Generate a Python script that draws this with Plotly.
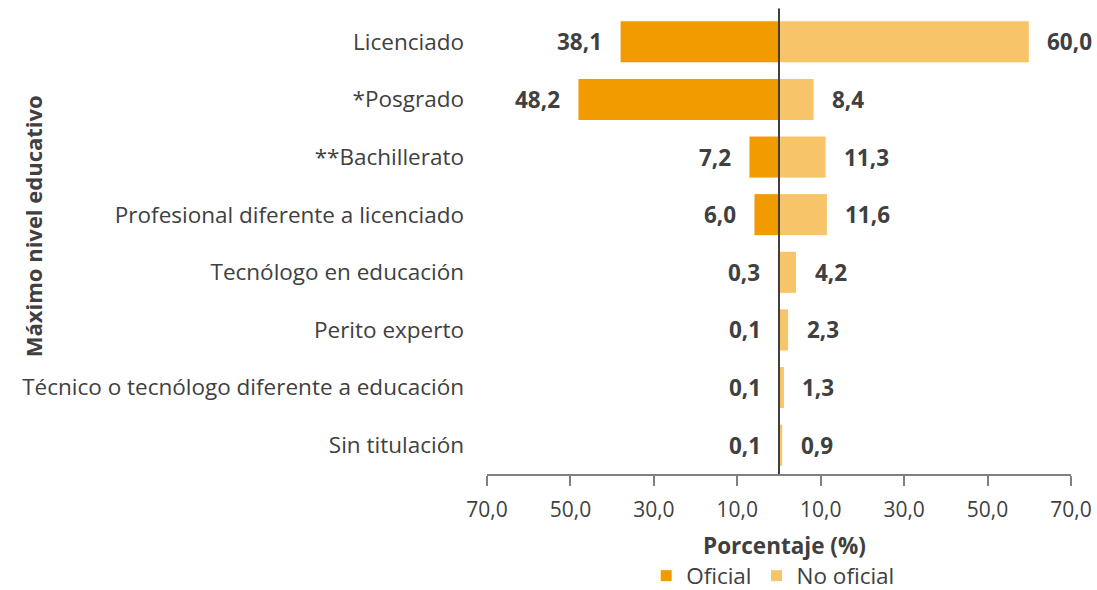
import plotly.graph_objects as go

categories = [
    "Licenciado",
    "*Posgrado",
    "**Bachillerato",
    "Profesional diferente a licenciado",
    "Tecnólogo en educación",
    "Perito experto",
    "Técnico o tecnólogo diferente a educación",
    "Sin titulación",
]
oficial = [38.1, 48.2, 7.2, 6.0, 0.3, 0.1, 0.1, 0.1]
no_oficial = [60.0, 8.4, 11.3, 11.6, 4.2, 2.3, 1.3, 0.9]
tick_vals = [-70, -50, -30, -10, 10, 30, 50, 70]
tick_text = ["70,0", "50,0", "30,0", "10,0", "10,0", "30,0", "50,0", "70,0"]

C_OF = "#F29B00"
C_NO = "#F7C46A"
TXT = "#404040"
FONT = "Open Sans"
FS = 22.5

def fmt(v):
    return f"{v:.1f}".replace(".", ",")

fig = go.Figure()
fig.add_trace(go.Bar(
    y=categories, x=[-v for v in oficial], orientation="h", name="Oficial",
    marker=dict(color=C_OF, line=dict(color="white", width=1)),
    hoverinfo="skip",
))
fig.add_trace(go.Bar(
    y=categories, x=no_oficial, orientation="h", name="No oficial",
    marker=dict(color=C_NO, line=dict(color="white", width=1)),
    hoverinfo="skip",
))

annotations = []
for c, v in zip(categories, oficial):
    annotations.append(dict(x=-v, y=c, xref="x", yref="y", text=fmt(v),
                            showarrow=False, xanchor="right", xshift=-16,
                            font=dict(family=FONT, size=FS, color=TXT, weight="bold")))
for c, v in zip(categories, no_oficial):
    annotations.append(dict(x=v, y=c, xref="x", yref="y", text=fmt(v),
                            showarrow=False, xanchor="left", xshift=16,
                            font=dict(family=FONT, size=FS, color=TXT, weight="bold")))
annotations.append(dict(x=0.510, y=-0.156, xref="paper", yref="paper",
                        text="Porcentaje (%)", showarrow=False,
                        xanchor="center", yanchor="middle",
                        font=dict(family=FONT, size=FS, color=TXT, weight="bold")))
annotations.append(dict(x=-0.777, y=0.538, xref="paper", yref="paper",
                        text="Máximo nivel educativo", showarrow=False, textangle=-90,
                        xanchor="center", yanchor="middle",
                        font=dict(family=FONT, size=22, color=TXT, weight="bold")))

fig.update_layout(
    width=1097, height=590,
    margin=dict(l=487, r=26, t=13, b=116, autoexpand=False),
    paper_bgcolor="white", plot_bgcolor="white",
    barmode="relative", bargap=0.27,
    font=dict(family=FONT, size=FS, color=TXT),
    showlegend=True,
    legend=dict(orientation="h", x=0.49, xanchor="center", y=-0.268, yanchor="bottom",
                font=dict(family=FONT, size=FS, color=TXT),
                traceorder="normal"),
    annotations=annotations,
    xaxis=dict(range=[-70, 70], tickvals=tick_vals, ticktext=tick_text,
               showgrid=False, zeroline=False, showline=True, linecolor="#808080",
               linewidth=1.5, ticks="outside", ticklen=10, tickcolor="#808080",
               tickwidth=1.5, ticklabelstandoff=6, automargin=False,
               tickfont=dict(family=FONT, size=21, color=TXT), fixedrange=True),
    yaxis=dict(autorange="reversed", showgrid=False, zeroline=False, showline=False,
               ticks="", ticklabelstandoff=22, automargin=False,
               tickfont=dict(family=FONT, size=FS, color=TXT)),
    shapes=[dict(type="line", xref="x", yref="paper", x0=0, x1=0, y0=0, y1=1.01,
                 line=dict(color="#404040", width=2), layer="above")],
)

fig.write_html(
    "out.html",
    config={"displayModeBar": False},
    post_script="document.body.style.margin='0';document.body.style.overflow='hidden';",
)
